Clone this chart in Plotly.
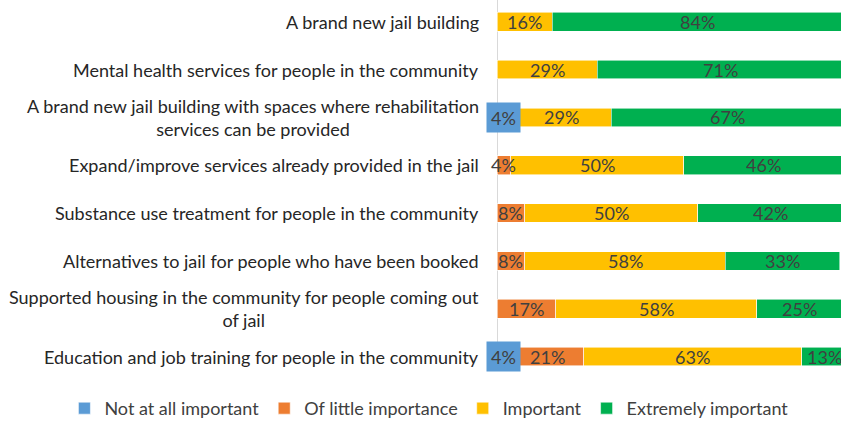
import plotly.graph_objects as go

categories = [
    "A brand new jail building",
    "Mental health services for people in the community",
    "A brand new jail building with spaces where rehabilitation<br>services can be provided",
    "Expand/improve services already provided in the jail",
    "Substance use treatment for people in the community",
    "Alternatives to jail for people who have been booked",
    "Supported housing in the community for people coming out<br>of jail",
    "Education and job training for people in the community",
]
not_at_all = [0, 0, 4, 0, 0, 0, 0, 4]
little = [0, 0, 0, 4, 8, 8, 17, 21]
important = [16, 29, 29, 50, 50, 58, 58, 63]
extremely = [84, 71, 67, 46, 42, 33, 25, 13]

series = [
    ("Not at all important", not_at_all, "#5B9BD5"),
    ("Of little importance", little, "#ED7D31"),
    ("Important", important, "#FFC000"),
    ("Extremely important", extremely, "#00B050"),
]

FONT = "Lato"
TXT = "#404040"
idx = list(range(len(categories)))
W, H = 841, 427
X0 = 497 / W

fig = go.Figure()
annotations = []
base = [0] * len(categories)
for name, vals, color in series:
    fig.add_trace(go.Bar(
        name=name, y=idx, x=vals, orientation="h",
        marker=dict(color=color, line=dict(color="rgba(255,255,255,0.7)", width=0.8)),
        width=0.39, hoverinfo="skip",
    ))
    for i, v in enumerate(vals):
        if v > 0:
            a = dict(x=base[i] + v / 2, y=i, xref="x", yref="y", text=f"{v}%",
                     showarrow=False, font=dict(family=FONT, size=18, color=TXT))
            if name == "Not at all important":
                a.update(bgcolor=color, width=29, height=25, borderpad=2)
            annotations.append(a)
        base[i] += v

for i, c in enumerate(categories):
    annotations.append(dict(
        x=X0, y=i, xref="paper", yref="y", text=c, showarrow=False,
        xanchor="right", xshift=-16, align="center",
        font=dict(family=FONT, size=18, color="#262626"),
    ))

fig.update_layout(
    barmode="stack",
    width=W, height=H,
    margin=dict(l=0, r=0, t=0, b=52),
    plot_bgcolor="white", paper_bgcolor="white",
    xaxis=dict(domain=[X0, 1], range=[0, 99.4], showgrid=False, showticklabels=False,
               zeroline=True, zerolinecolor="#d9d9d9", zerolinewidth=1.2),
    yaxis=dict(range=[7.30, -0.455], showticklabels=False, showgrid=False,
               zeroline=False, tickvals=idx),
    showlegend=True,
    legend=dict(orientation="h", x=0.51, xanchor="center", y=-0.101, yanchor="middle",
                font=dict(family=FONT, size=18, color=TXT), traceorder="normal"),
    annotations=annotations,
    font=dict(family=FONT),
)

fig.write_html("out.html", config={"displayModeBar": False},
               post_script="document.body.style.margin='0';document.body.style.overflow='hidden';")
